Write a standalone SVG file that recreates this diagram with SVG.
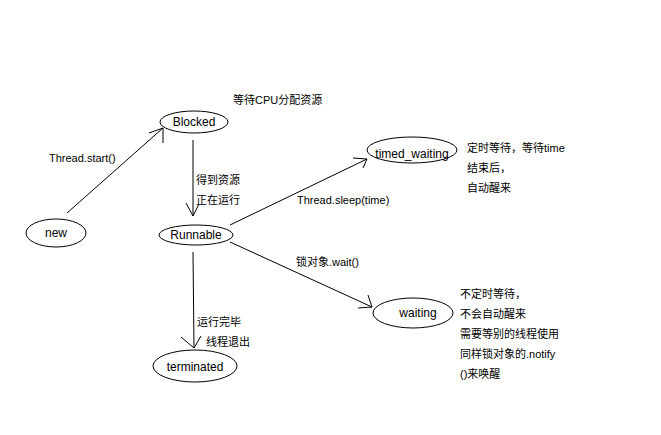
<svg xmlns="http://www.w3.org/2000/svg" width="661" height="435" viewBox="0 0 661 435">
<style>
text{font-family:"Liberation Sans","Noto Sans CJK SC",sans-serif;font-size:11px;fill:#000}
.n ellipse{fill:#fff;stroke:#000;stroke-width:1}
.n text{text-anchor:middle;font-size:12px}
#edges line,#edges polyline{stroke:#000;stroke-width:1;fill:none}
</style>
<rect width="661" height="435" fill="#fff"/>
<g id="edges">
<line x1="67" y1="213" x2="163" y2="128"/>
<polyline points="149,133 163,128 163,143"/>
<line x1="193" y1="140" x2="193" y2="216"/>
<polyline points="186,203 193,216 199,204"/>
<line x1="230" y1="225" x2="367" y2="159"/>
<polyline points="353,158 367,159 363,168"/>
<line x1="230" y1="242" x2="372" y2="307"/>
<polyline points="368,295 372,307 358,308"/>
<line x1="193" y1="252" x2="194" y2="348"/>
<polyline points="181,337 194,348 201,336"/>
<text x="49" y="162">Thread.start()</text>
<text x="196" y="184">得到资源</text>
<text x="196" y="204">正在运行</text>
<text x="297" y="204">Thread.sleep(time)</text>
<text x="296" y="266">锁对象.wait()</text>
<text x="197" y="326">运行完毕</text>
<text x="206" y="346">线程退出</text>
</g>
<text x="233" y="104">等待CPU分配资源</text>
<g id="new" class="n"><ellipse cx="56" cy="233" rx="30" ry="14"/><text x="56" y="237">new</text></g>
<g id="blocked" class="n"><ellipse cx="194" cy="122" rx="34" ry="11"/><text x="194" y="126">Blocked</text></g>
<g id="runnable" class="n"><ellipse cx="196" cy="235" rx="37" ry="10"/><text x="196" y="239">Runnable</text></g>
<g id="timed_waiting" class="n"><ellipse cx="412" cy="150" rx="45" ry="13"/><text x="412" y="158">timed_waiting</text></g>
<g id="waiting" class="n"><ellipse cx="413" cy="313" rx="40" ry="15"/><text x="418" y="317">waiting</text></g>
<g id="terminated" class="n"><ellipse cx="195" cy="366" rx="42" ry="16"/><text x="195" y="371">terminated</text></g>
<g id="notes">
<text x="467" y="152">定时等待，等待time</text>
<text x="467" y="172">结束后，</text>
<text x="467" y="192">自动醒来</text>
<text x="460" y="298">不定时等待，</text>
<text x="460" y="318">不会自动醒来</text>
<text x="460" y="338">需要等别的线程使用</text>
<text x="460" y="358">同样锁对象的.notify</text>
<text x="460" y="378">()来唤醒</text>
</g>
</svg>
